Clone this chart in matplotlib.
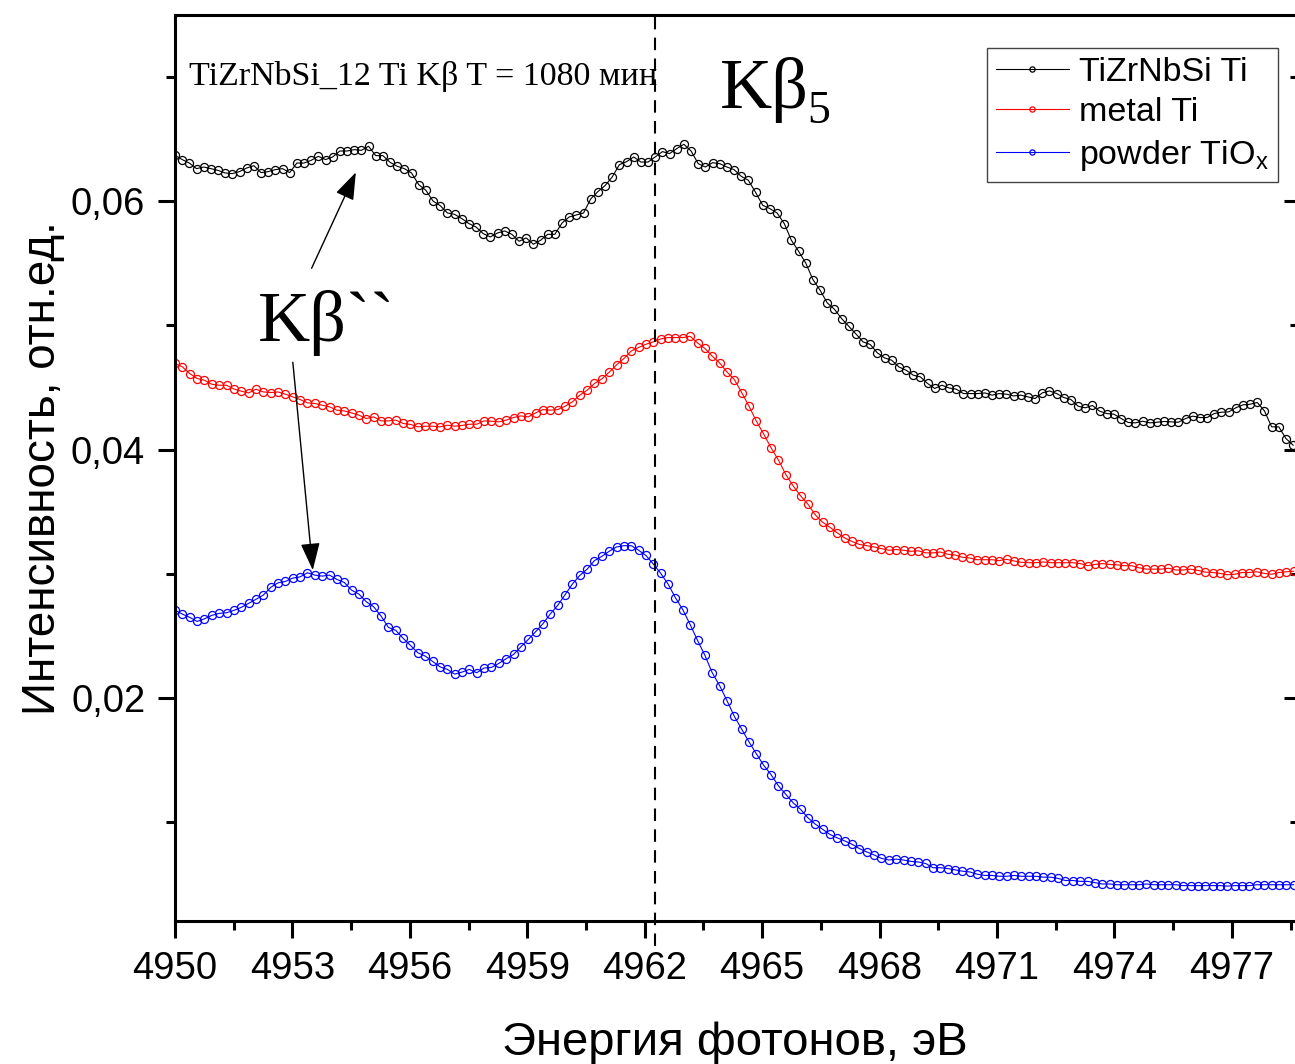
import numpy as np
import matplotlib
matplotlib.use("Agg")
import matplotlib.pyplot as plt
from matplotlib.ticker import MultipleLocator, FuncFormatter

plt.rcParams['font.family'] = ['Liberation Sans', 'DejaVu Sans']

# ---------------- DATA ----------------
# energy grids (eV): start + step, black spectrum sampled slightly finer
e_black = np.round(4950.0 + 0.1831 * np.arange(157), 4)
e_rb = np.round(4950.0 + 0.188 * np.arange(153), 4)

tizrnbsi = [
    0.06370, 0.06336, 0.06308, 0.06263, 0.06276, 0.06263, 0.06249, 0.06228, 0.06223, 0.06239,
    0.06268, 0.06287, 0.06231, 0.06239, 0.06255, 0.06263, 0.06231, 0.06308, 0.06308, 0.06330,
    0.06362, 0.06336, 0.06357, 0.06405, 0.06405, 0.06416, 0.06410, 0.06443, 0.06368, 0.06368,
    0.06314, 0.06282, 0.06263, 0.06228, 0.06134, 0.06089, 0.06002, 0.05965, 0.05906, 0.05895,
    0.05861, 0.05821, 0.05793, 0.05740, 0.05713, 0.05745, 0.05761, 0.05734, 0.05678, 0.05705,
    0.05654, 0.05686, 0.05734, 0.05734, 0.05825, 0.05874, 0.05890, 0.05906, 0.06019, 0.06078,
    0.06126, 0.06196, 0.06295, 0.06319, 0.06357, 0.06316, 0.06316, 0.06357, 0.06400, 0.06384,
    0.06424, 0.06459, 0.06405, 0.06303, 0.06276, 0.06311, 0.06303, 0.06276, 0.06255, 0.06201,
    0.06169, 0.06072, 0.05968, 0.05941, 0.05906, 0.05821, 0.05686, 0.05598, 0.05503, 0.05370,
    0.05284, 0.05182, 0.05131, 0.05056, 0.04994, 0.04932, 0.04868, 0.04847, 0.04779, 0.04739,
    0.04720, 0.04666, 0.04640, 0.04600, 0.04586, 0.04533, 0.04493, 0.04519, 0.04497, 0.04487,
    0.04452, 0.04452, 0.04452, 0.04457, 0.04439, 0.04452, 0.04447, 0.04433, 0.04439, 0.04425,
    0.04412, 0.04457, 0.04473, 0.04452, 0.04420, 0.04404, 0.04350, 0.04337, 0.04356, 0.04310,
    0.04291, 0.04286, 0.04251, 0.04219, 0.04216, 0.04229, 0.04216, 0.04221, 0.04227, 0.04224,
    0.04221, 0.04251, 0.04270, 0.04259, 0.04259, 0.04291, 0.04302, 0.04304, 0.04337, 0.04361,
    0.04366, 0.04380, 0.04312, 0.04184, 0.04184, 0.04090, 0.04036,
]

metal_ti = [
    0.04694, 0.04667, 0.04613, 0.04573, 0.04559, 0.04527, 0.04519, 0.04519, 0.04489, 0.04471,
    0.04457, 0.04487, 0.04465, 0.04460, 0.04465, 0.04447, 0.04425, 0.04404, 0.04377, 0.04372,
    0.04358, 0.04345, 0.04318, 0.04312, 0.04296, 0.04278, 0.04251, 0.04264, 0.04232, 0.04232,
    0.04238, 0.04211, 0.04203, 0.04184, 0.04189, 0.04189, 0.04184, 0.04197, 0.04189, 0.04195,
    0.04205, 0.04205, 0.04232, 0.04229, 0.04224, 0.04238, 0.04259, 0.04272, 0.04264, 0.04296,
    0.04323, 0.04318, 0.04323, 0.04350, 0.04385, 0.04439, 0.04479, 0.04533, 0.04570, 0.04624,
    0.04683, 0.04734, 0.04795, 0.04823, 0.04849, 0.04868, 0.04892, 0.04903, 0.04903, 0.04903,
    0.04913, 0.04860, 0.04815, 0.04753, 0.04699, 0.04626, 0.04565, 0.04460, 0.04350, 0.04229,
    0.04125, 0.04015, 0.03916, 0.03800, 0.03708, 0.03629, 0.03561, 0.03475, 0.03416, 0.03375,
    0.03330, 0.03289, 0.03261, 0.03237, 0.03227, 0.03217, 0.03203, 0.03190, 0.03196, 0.03190,
    0.03182, 0.03186, 0.03169, 0.03169, 0.03176, 0.03158, 0.03152, 0.03134, 0.03128, 0.03114,
    0.03114, 0.03114, 0.03107, 0.03117, 0.03104, 0.03093, 0.03090, 0.03090, 0.03096, 0.03090,
    0.03090, 0.03090, 0.03090, 0.03083, 0.03066, 0.03076, 0.03083, 0.03076, 0.03073, 0.03066,
    0.03066, 0.03049, 0.03038, 0.03038, 0.03038, 0.03045, 0.03031, 0.03031, 0.03038, 0.03028,
    0.03014, 0.03011, 0.03004, 0.02993, 0.02997, 0.03011, 0.03011, 0.03017, 0.03004, 0.02997,
    0.03011, 0.03017, 0.03021,
]

powder_tiox = [
    0.02708, 0.02676, 0.02650, 0.02617, 0.02638, 0.02666, 0.02682, 0.02687, 0.02706, 0.02730,
    0.02762, 0.02795, 0.02829, 0.02891, 0.02928, 0.02939, 0.02966, 0.02976, 0.03009, 0.02990,
    0.02982, 0.02990, 0.02955, 0.02931, 0.02869, 0.02837, 0.02775, 0.02735, 0.02660, 0.02569,
    0.02545, 0.02481, 0.02424, 0.02365, 0.02338, 0.02295, 0.02252, 0.02231, 0.02193, 0.02209,
    0.02231, 0.02204, 0.02242, 0.02247, 0.02279, 0.02317, 0.02351, 0.02413, 0.02472, 0.02534,
    0.02599, 0.02678, 0.02746, 0.02832, 0.02918, 0.02987, 0.03038, 0.03107, 0.03141, 0.03182,
    0.03217, 0.03227, 0.03227, 0.03190, 0.03148, 0.03079, 0.03004, 0.02918, 0.02808, 0.02712,
    0.02592, 0.02465, 0.02345, 0.02204, 0.02101, 0.01980, 0.01853, 0.01750, 0.01647, 0.01551,
    0.01458, 0.01383, 0.01293, 0.01224, 0.01156, 0.01104, 0.01036, 0.00985, 0.00943, 0.00902,
    0.00874, 0.00850, 0.00823, 0.00788, 0.00761, 0.00737, 0.00709, 0.00696, 0.00703, 0.00696,
    0.00685, 0.00680, 0.00668, 0.00634, 0.00634, 0.00627, 0.00617, 0.00606, 0.00600, 0.00582,
    0.00572, 0.00572, 0.00565, 0.00565, 0.00572, 0.00565, 0.00565, 0.00565, 0.00558, 0.00558,
    0.00548, 0.00531, 0.00531, 0.00524, 0.00524, 0.00514, 0.00503, 0.00503, 0.00497, 0.00497,
    0.00497, 0.00497, 0.00503, 0.00497, 0.00497, 0.00497, 0.00497, 0.00490, 0.00490, 0.00490,
    0.00490, 0.00490, 0.00490, 0.00486, 0.00490, 0.00490, 0.00490, 0.00497, 0.00497, 0.00497,
    0.00497, 0.00497, 0.00497,
]

labels = ["TiZrNbSi Ti", "metal Ti", r"powder TiO$_\mathregular{x}$"]
kb5_energy = 4962.25

# ---------------- FIGURE ----------------
W, H = 1295, 1064
fig = plt.figure(figsize=(W / 100, H / 100), dpi=100)
ax = fig.add_axes([175 / W, (H - 921) / H, (1296.5 - 175) / W, (921 - 15) / H])

mk = dict(marker="o", mfc="none", ms=5.8, mew=0.9, lw=0.8)
ax.plot(e_black, tizrnbsi, color="black", label=labels[0], **mk)
ax.plot(e_rb, metal_ti, color="red", label=labels[1], **mk)
ax.plot(e_rb, powder_tiox, color="blue", label=labels[2], **mk)

ax.set_xlim(4950, 4978.65)
ax.set_ylim(0.00205, 0.075)

# dashed marker line for Kb5 position
ax.plot([kb5_energy, kb5_energy], [0.0, 0.075], color="black", lw=1.5,
        linestyle=(0, (6, 4)), clip_on=False)

# ticks
ax.xaxis.set_major_locator(MultipleLocator(3))
ax.xaxis.set_minor_locator(MultipleLocator(1.5))
ax.yaxis.set_major_locator(MultipleLocator(0.02))
ax.yaxis.set_minor_locator(MultipleLocator(0.01))
ax.yaxis.set_major_formatter(FuncFormatter(lambda v, p: f"{v:.2f}".replace(".", ",")))
ax.tick_params(which="major", direction="out", length=12.5, width=2.2, labelsize=27.5, pad=9)
ax.tick_params(which="minor", direction="out", length=6.5, width=2.2)
for s in ax.spines.values():
    s.set_linewidth(2.2)

sec = ax.secondary_yaxis("right")
sec.yaxis.set_major_locator(MultipleLocator(0.02))
sec.yaxis.set_minor_locator(MultipleLocator(0.01))
sec.tick_params(which="major", direction="in", length=9.5, width=2.2, labelright=False)
sec.tick_params(which="minor", direction="in", length=5, width=2.2)
sec.spines["right"].set_linewidth(2.2)

# axis labels
fig.text(735 / W, 1 - 1055 / H, "Энергия фотонов, эВ", fontsize=34,
         ha="center", va="baseline")
fig.text(55 / W, 1 - 468 / H, "Интенсивность, отн.ед.", fontsize=33,
         ha="center", va="baseline", rotation=90, rotation_mode="anchor")

# legend
leg = ax.legend(loc="upper right", bbox_to_anchor=(1278 / W, 1 - 48 / H),
                bbox_transform=fig.transFigure, fontsize=24.5, frameon=True,
                fancybox=False, edgecolor="#444444", framealpha=1, borderaxespad=0,
                handlelength=2.15, handletextpad=0.3, labelspacing=0.27,
                borderpad=0.27, markerscale=0.65)
leg.get_frame().set_linewidth(1)

# annotations
serif = ["Liberation Serif", "DejaVu Serif"]
fig.text(189 / W, 1 - 85 / H, "TiZrNbSi_12 Ti Kβ T = 1080 мин", fontsize=24.5,
         family=serif, ha="left", va="baseline")
fig.text(720 / W, 1 - 108 / H, "Kβ", fontsize=52, family=serif,
         ha="left", va="baseline")
fig.text(807 / W, 1 - 123 / H, "5", fontsize=33, family=serif,
         ha="left", va="baseline")
fig.text(258 / W, 1 - 341 / H, "Kβ``", fontsize=52, family=serif,
         ha="left", va="baseline")

arrow = dict(arrowstyle="-|>,head_length=0.85,head_width=0.3", color="black",
             lw=1, shrinkA=0, shrinkB=0, mutation_scale=20)
ax.annotate("", xy=(4954.62, 0.06233), xytext=(4953.49, 0.05461), arrowprops=arrow)
ax.annotate("", xy=(4953.52, 0.03030), xytext=(4953.01, 0.04704), arrowprops=arrow)

fig.savefig("out.png", dpi=100)
